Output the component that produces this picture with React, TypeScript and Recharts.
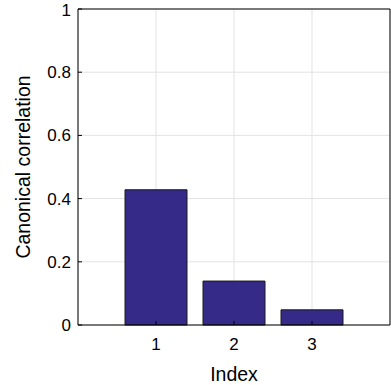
import { Bar, BarChart, CartesianGrid, XAxis, YAxis } from 'recharts';

const indices = [1, 2, 3];
const correlations = [0.428, 0.139, 0.048];
const xTicks = [1, 2, 3];
const yTicks = [0, 0.2, 0.4, 0.6, 0.8, 1];

const data = indices.map((index, i) => ({ index, value: correlations[i] }));

const FONT = '"Liberation Sans", Arial, sans-serif';
const BAR_FILL = '#352A87';

interface LabelBox {
  viewBox?: { x: number; y: number; width: number; height: number };
}

const YAxisTitle = ({ viewBox }: LabelBox) => {
  if (!viewBox) return null;
  const cx = viewBox.x + 29.5;
  const cy = viewBox.y + viewBox.height / 2;
  return (
    <text x={cx} y={cy} transform={`rotate(-90 ${cx} ${cy})`} textAnchor="middle" fontSize={19.5} fill="#000" fontFamily={FONT}>
      Canonical correlation
    </text>
  );
};

const XAxisTitle = ({ viewBox }: LabelBox) => {
  if (!viewBox) return null;
  return (
    <text x={viewBox.x + viewBox.width / 2} y={viewBox.y + 56} textAnchor="middle" fontSize={19.5} fill="#000" fontFamily={FONT}>
      Index
    </text>
  );
};

export default function App() {
  return (
    <div style={{ position: 'absolute', left: 0, top: 0, width: 391, height: 385, background: '#fff' }}>
      <BarChart width={391} height={385} data={data} margin={{ top: 8, right: 0, left: 0, bottom: 0 }}>
        <CartesianGrid xAxisId="main" yAxisId="main" stroke="#E3E3E3" />
        <XAxis
          xAxisId="main"
          dataKey="index"
          type="number"
          domain={[0, 4]}
          ticks={xTicks}
          height={60}
          axisLine={{ stroke: '#000' }}
          tickLine={{ stroke: '#000' }}
          tickSize={-4}
          tickMargin={17}
          tick={{ fill: '#000', fontSize: 17, fontFamily: FONT }}
          label={<XAxisTitle />}
        />
        <XAxis
          xAxisId="top"
          orientation="top"
          dataKey="index"
          type="number"
          domain={[0, 4]}
          ticks={xTicks}
          height={1}
          axisLine={{ stroke: '#000' }}
          tickLine={{ stroke: '#000' }}
          tickSize={-4}
          tick={false}
        />
        <YAxis
          yAxisId="main"
          domain={[0, 1]}
          ticks={yTicks}
          width={78}
          axisLine={{ stroke: '#000' }}
          tickLine={{ stroke: '#000' }}
          tickSize={-4}
          tickMargin={11}
          tick={{ fill: '#000', fontSize: 17, fontFamily: FONT }}
          tickFormatter={(v: number) => String(v)}
          label={<YAxisTitle />}
        />
        <YAxis
          yAxisId="right"
          orientation="right"
          domain={[0, 1]}
          ticks={yTicks}
          width={1}
          axisLine={{ stroke: '#000' }}
          tickLine={{ stroke: '#000' }}
          tickSize={-4}
          tick={false}
        />
        <Bar
          xAxisId="main"
          yAxisId="main"
          dataKey="value"
          barSize={62}
          fill={BAR_FILL}
          stroke="#1a1a1a"
          strokeWidth={1}
          isAnimationActive={false}
        />
        <Bar xAxisId="top" yAxisId="right" dataKey="value" barSize={0} fill="none" isAnimationActive={false} />
      </BarChart>
    </div>
  );
}
